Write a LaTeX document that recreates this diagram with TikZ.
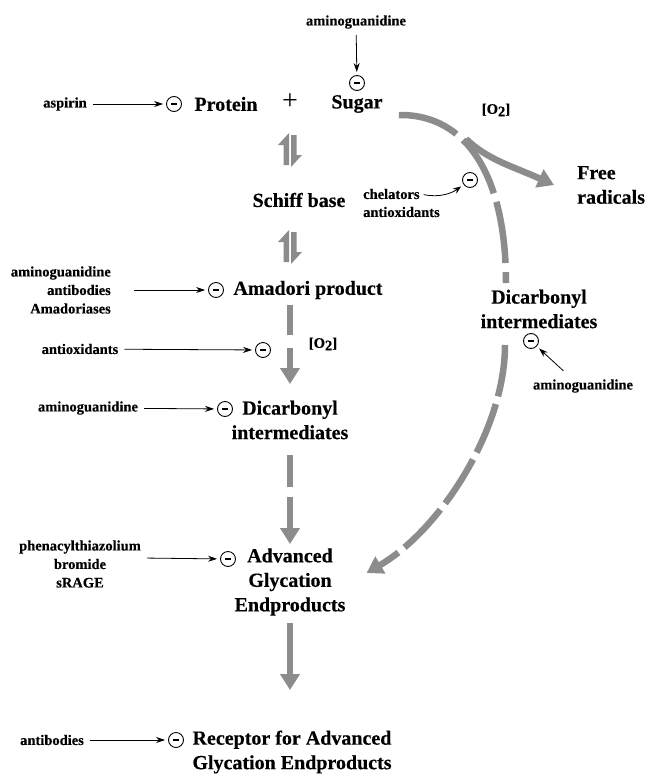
\documentclass[tikz,border=0pt]{standalone}
\usepackage{fontspec}
\setmainfont{Liberation Serif}[BoldFeatures={FakeBold=0.4}]
\usetikzlibrary{arrows.meta}
\definecolor{arr}{RGB}{140,140,140}
\begin{document}
\begin{tikzpicture}[x=1pt,y=-1pt,
  small/.style={font=\bfseries\fontsize{14.5}{18.5}\selectfont, inner sep=1pt},
  big/.style={font=\bfseries\fontsize{20}{24.5}\selectfont, inner sep=1pt, align=center},
  inh/.style={-{Stealth[length=9pt,width=6pt]}, line width=0.8pt, shorten >=3pt, shorten <=5pt},
  minus/.style={circle,draw,line width=0.9pt,minimum size=15pt,inner sep=0pt,
    path picture={\fill ([shift={(-2.8pt,-1.3pt)}]path picture bounding box.center) rectangle ([shift={(2.8pt,1.3pt)}]path picture bounding box.center);}},
  garc/.style={draw=arr, line width=6.5pt},
  gtip/.style={-{Triangle[length=16pt,width=19pt]}},
  harp/.pic={
    \fill[arr] (-1,-17) -- (-1,15) -- (-6.5,15) -- (-6.5,-5) -- (-12,-5) -- cycle;
    \fill[arr] (1,17) -- (1,-15) -- (6.5,-15) -- (6.5,5) -- (12,5) -- cycle;
  }
]
\useasboundingbox (0,0) rectangle (647,774);

% top row
\node[small] (ag1) at (356,22) {aminoguanidine};
\node[minus] (m1) at (357,83) {};
\draw[inh] (ag1) -- (m1);
\node[small] (asp) at (65,104) {aspirin};
\node[minus] (m2) at (174,104) {};
\draw[inh] (asp) -- (m2);
\node[big] (protein) at (226,104) {Protein};
\node[font=\fontsize{28}{30}\selectfont] (plus) at (290,102) {+};
\node[big] (sugar) at (357,104) {Sugar};
\node[small] (o2a) at (496,110) {[O\raisebox{-2.5pt}{2}]};

% Schiff base
\pic at (290,150) {harp};
\node[big] (schiff) at (299,200) {Schiff base};
\node[small, anchor=west] (chel) at (362,194) {chelators};
\node[small, anchor=west] (antiox) at (362,212) {antioxidants};
\node[minus] (m3) at (470,180) {};
\draw[-{Stealth[length=8pt,width=6pt]}, line width=0.8pt, shorten >=3pt, shorten <=3pt] (chel.east) .. controls (440,198) and (452,193) .. (m3);

% Free radicals
\node[big, align=left, anchor=west] (free) at (576,185) {Free\\radicals};

% right branch
\coordinate (br) at (466,139);
\coordinate (arcend) at (506,283);
\node[big] (dicR) at (539,309) {Dicarbonyl\\intermediates};
\draw[garc, dash pattern=on 62pt off 9pt] ([shift={(15,11)}]sugar.east) .. controls (468,114) and (506,178) .. (arcend);
\draw[garc, gtip] (br) .. controls (488,160) and (512,166) .. ([xshift=-22pt]free.west);
\node[minus] (m4) at (531,341) {};
\node[small] (ag3) at (583,386) {aminoguanidine};
\draw[inh] ([shift={(-16,-4)}]ag3.north) -- (m4);

% Amadori
\pic at (290,247) {harp};
\node[big] (amadori) at (308,290) {Amadori product};
\node[minus] (m5) at (216,290) {};
\node[small, align=right, anchor=east] (ag2) at (112,290) {aminoguanidine\\antibodies\\Amadoriases};
\draw[inh, shorten <=22pt] (ag2) -- (m5);

\node[small] (antiox2) at (80,349) {antioxidants};
\node[minus] (m6) at (263,350) {};
\draw[inh] (antiox2) -- (m6);
\node[small] (o2b) at (323,344) {[O\raisebox{-2.5pt}{2}]};

% Dicarbonyl left
\node[big] (dicL) at (290,420) {Dicarbonyl\\intermediates};
\node[minus] (m7) at (225,409) {};
\node[small] (ag4) at (88,408) {aminoguanidine};
\draw[inh] (ag4) -- (m7);
\draw[garc, gtip, dash pattern=on 30pt off 13pt] (290,305) -- (290,384);

% AGE
\node[big] (age) at (290,582) {Advanced\\Glycation\\Endproducts};
\node[minus] (m8) at (228,559) {};
\node[small, align=center] (phen) at (80,564) {phenacylthiazolium\\bromide\\sRAGE};
\draw[inh] ([yshift=6pt]phen.east) -- (m8);
\draw[garc, gtip, dash pattern=on 32pt off 10pt] (290,455) -- (290,544);
\draw[garc, gtip, dash pattern=on 52pt off 8pt] (505,345) .. controls (505,430) and (440,530) .. ([shift={(20,-9)}]age.east);

% RAGE
\draw[garc, gtip] ([yshift=-6pt]age.south) -- (290,690);
\node[big] (rage) at (292,752) {Receptor for Advanced\\Glycation Endproducts};
\node[minus] (m9) at (176,740) {};
\node[small] (ab) at (52,740) {antibodies};
\draw[inh] (ab) -- (m9);
\end{tikzpicture}
\end{document}
